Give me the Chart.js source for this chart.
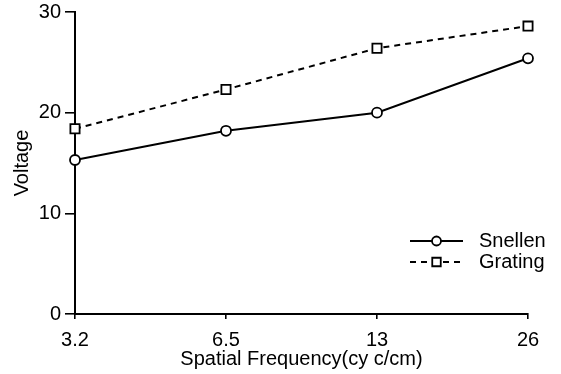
<!DOCTYPE html>
<html>
<head>
<meta charset="utf-8">
<script src="https://cdn.jsdelivr.net/npm/chart.js@4.4.0/dist/chart.umd.min.js"></script>
<style>
  html, body { margin: 0; padding: 0; background: #fff; }
  #chartArea { width: 561px; height: 374px; }
</style>
</head>
<body>
<div id="chartArea"><canvas id="chartVoltage"></canvas></div>
<script>
// data
const freqLabels = ['3.2', '6.5', '13', '26'];
const snellenValues = [15.3, 18.2, 20.0, 25.4];
const gratingValues = [18.4, 22.3, 26.4, 28.6];
const yTicks = [0, 10, 20, 30];

const fontFamily = '"Liberation Sans", Arial, Helvetica, sans-serif';
const fontSize = 20;
const ink = '#000';

const ctx = document.getElementById('chartVoltage').getContext('2d');
const chartVoltage = new Chart(ctx, {
  type: 'line',
  data: {
    labels: freqLabels,
    datasets: [
      {
        label: 'Snellen',
        data: snellenValues,
        borderColor: ink,
        borderWidth: 2,
        pointStyle: 'circle',
        pointRadius: 5,
        pointBorderWidth: 1.8,
        pointBackgroundColor: '#fff',
        pointBorderColor: ink,
        tension: 0,
      },
      {
        label: 'Grating',
        data: gratingValues,
        borderColor: ink,
        borderWidth: 2,
        borderDash: [6, 5],
        pointStyle: 'rect',
        pointRadius: 6.5,
        pointBorderWidth: 1.8,
        pointBackgroundColor: '#fff',
        pointBorderColor: ink,
        tension: 0,
      },
    ],
  },
  options: {
    responsive: true,
    maintainAspectRatio: false,
    animation: false,
    layout: { padding: { top: 12, right: 33, left: 0, bottom: 0 } },
    plugins: {
      legend: { display: false },
      tooltip: { enabled: false },
    },
    scales: {
      x: {
        type: 'category',
        offset: false,
        border: { display: true, color: ink, width: 2 },
        grid: { display: true, drawOnChartArea: false, drawTicks: true, tickLength: 5, color: ink, lineWidth: 1.6 },
        ticks: { color: ink, font: { family: fontFamily, size: fontSize }, padding: 9, maxRotation: 0, autoSkip: false },
        title: { display: true, text: 'Spatial Frequency(cy c/cm)', color: ink, font: { family: fontFamily, size: fontSize }, padding: { top: 0, bottom: 3 } },
        afterFit(scale) { scale.height = 60; },
      },
      y: {
        min: 0,
        max: 30,
        afterBuildTicks(scale) { scale.ticks = yTicks.map((v) => ({ value: v })); },
        border: { display: true, color: ink, width: 2 },
        grid: { display: true, drawOnChartArea: false, drawTicks: true, tickLength: 10, color: ink, lineWidth: 1.6 },
        ticks: { color: ink, font: { family: fontFamily, size: fontSize }, padding: 4 },
        title: { display: true, text: 'Voltage', color: ink, font: { family: fontFamily, size: fontSize }, padding: { top: 10, bottom: 0 } },
        afterFit(scale) {
          scale.width = 75;
          scale.paddingTop = 0;
          scale.paddingBottom = 0;
        },
      },
    },
  },
  plugins: [{
    // legend drawn by hand: line sample + marker + label, as in the figure
    id: 'figLegend',
    afterDraw(chart) {
      const c = chart.ctx;
      const area = chart.chartArea;
      const x0 = area.right - 118;
      const x1 = area.right - 65;
      const xm = (x0 + x1) / 2;
      [0, 1].forEach((i) => {
        const ds = chart.data.datasets[i];
        const y = area.bottom - 73 + i * 21;
        c.save();
        c.strokeStyle = ink;
        c.lineWidth = ds.borderWidth;
        c.setLineDash(ds.borderDash || []);
        c.beginPath();
        c.moveTo(x0, y);
        c.lineTo(x1, y);
        c.stroke();
        c.setLineDash([]);
        c.fillStyle = '#fff';
        c.lineWidth = ds.pointBorderWidth;
        Chart.helpers.drawPoint(c, { pointStyle: ds.pointStyle, radius: ds.pointRadius - 0.5, rotation: 0, borderWidth: ds.pointBorderWidth }, xm, y);
        c.font = fontSize + 'px ' + fontFamily;
        c.fillStyle = ink;
        c.textBaseline = 'middle';
        c.textAlign = 'left';
        c.fillText(ds.label, x1 + 16, y);
        c.restore();
      });
    },
  }],
});
</script>
</body>
</html>
